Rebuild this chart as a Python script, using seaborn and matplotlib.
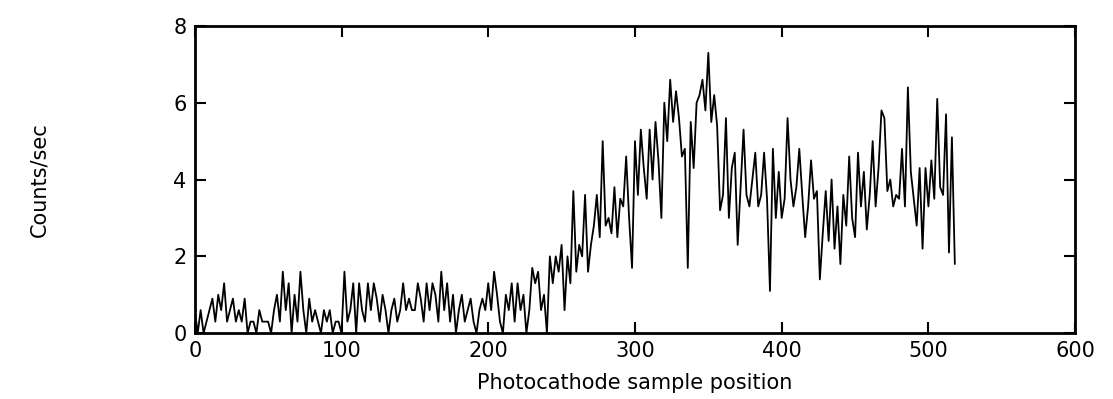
import numpy as np
import pandas as pd
import seaborn as sns
import matplotlib.pyplot as plt

# Counts/sec, one value every 2 sample positions (0..518)
counts_0_48 = [0.6, 0, 0.6, 0, 0.3, 0.6, 0.9, 0.3, 1.0, 0.6, 1.3, 0.3, 0.6,
               0.9, 0.3, 0.6, 0.3, 0.9, 0, 0.3, 0.3, 0, 0.6, 0.3, 0.3]
counts_50_98 = [0.3, 0, 0.6, 1.0, 0.3, 1.6, 0.6, 1.3, 0, 1.0, 0.3, 1.6, 0.6,
                0, 0.9, 0.3, 0.6, 0.3, 0, 0.6, 0.3, 0.6, 0, 0.3, 0.3]
counts_100_148 = [0, 1.6, 0.3, 0.6, 1.3, 0, 1.3, 0.6, 0.3, 1.3, 0.6, 1.3, 0.9,
                  0.3, 1.0, 0.6, 0, 0.6, 0.9, 0.3, 0.6, 1.3, 0.6, 0.9, 0.6]
counts_150_198 = [0.6, 1.3, 0.9, 0.3, 1.3, 0.6, 1.3, 1.0, 0.3, 1.6, 0.6, 1.3, 0.3,
                  1.0, 0, 0.6, 1.0, 0.3, 0.6, 0.9, 0.3, 0, 0.6, 0.9, 0.6]
counts_200_248 = [1.3, 0.6, 1.6, 1.0, 0.3, 0, 1.0, 0.6, 1.3, 0.3, 1.3, 0.6, 1.0,
                  0, 0.6, 1.7, 1.3, 1.6, 0.6, 1.0, 0, 2.0, 1.3, 2.0, 1.6]
counts_250_298 = [2.3, 0.6, 2.0, 1.3, 3.7, 1.6, 2.3, 2.0, 3.6, 1.6, 2.3, 2.8, 3.6,
                  2.5, 5.0, 2.8, 3.0, 2.6, 3.8, 2.5, 3.5, 3.3, 4.6, 3.0, 1.7]
counts_300_348 = [5.0, 3.6, 5.3, 4.3, 3.5, 5.3, 4.0, 5.5, 4.5, 3.0, 6.0, 5.0, 6.6,
                  5.5, 6.3, 5.6, 4.6, 4.8, 1.7, 5.5, 4.3, 6.0, 6.2, 6.6, 5.8]
counts_350_398 = [7.3, 5.5, 6.2, 5.4, 3.2, 3.6, 5.6, 3.0, 4.3, 4.7, 2.3, 3.8, 5.3,
                  3.6, 3.3, 4.0, 4.7, 3.3, 3.6, 4.7, 3.5, 1.1, 4.8, 3.0, 4.2]
counts_400_448 = [3.0, 3.5, 5.6, 4.0, 3.3, 3.8, 4.8, 3.6, 2.5, 3.3, 4.5, 3.5, 3.7,
                  1.4, 2.6, 3.7, 2.4, 4.0, 2.2, 3.3, 1.8, 3.6, 2.8, 4.6, 3.0]
counts_450_498 = [2.5, 4.7, 3.3, 4.2, 2.7, 3.6, 5.0, 3.3, 4.3, 5.8, 5.6, 3.7, 4.0,
                  3.3, 3.6, 3.5, 4.8, 3.3, 6.4, 4.2, 3.5, 2.8, 4.3, 2.2, 4.3]
counts_500_518 = [3.3, 4.5, 3.5, 6.1, 3.8, 3.6, 5.7, 2.1, 5.1, 1.8]

counts = (counts_0_48 + counts_50_98 + counts_100_148 + counts_150_198
          + counts_200_248 + counts_250_298 + counts_300_348 + counts_350_398
          + counts_400_448 + counts_450_498 + counts_500_518)
position = list(range(0, 2 * len(counts), 2))

df = pd.DataFrame({"position": position, "counts": counts})

sns.set_style("ticks")
plt.rcParams["font.family"] = ["DejaVu Sans"]

fig = plt.figure(figsize=(11.13, 3.99), dpi=100)
ax = fig.add_axes([0.175, 0.165, 0.791, 0.77])
sns.lineplot(data=df, x="position", y="counts", color="black", linewidth=1.3, ax=ax)

ax.set_xlim(0, 600)
ax.set_ylim(0, 8)
ax.set_xticks([0, 100, 200, 300, 400, 500, 600])
ax.set_yticks([0, 2, 4, 6, 8])
ax.tick_params(direction="in", length=8, width=1.5, labelsize=15,
               top=True, right=True, pad=6, colors="black")
for s in ax.spines.values():
    s.set_linewidth(2)
    s.set_color("black")
    s.set_visible(True)

ax.set_xlabel("Photocathode sample position", fontsize=15, labelpad=8, color="black")
ax.set_ylabel("")
fig.text(0.035, 0.55, "Counts/sec", rotation=90, fontsize=15,
         va="center", ha="center", color="black")

fig.savefig("out.png", dpi=100)
